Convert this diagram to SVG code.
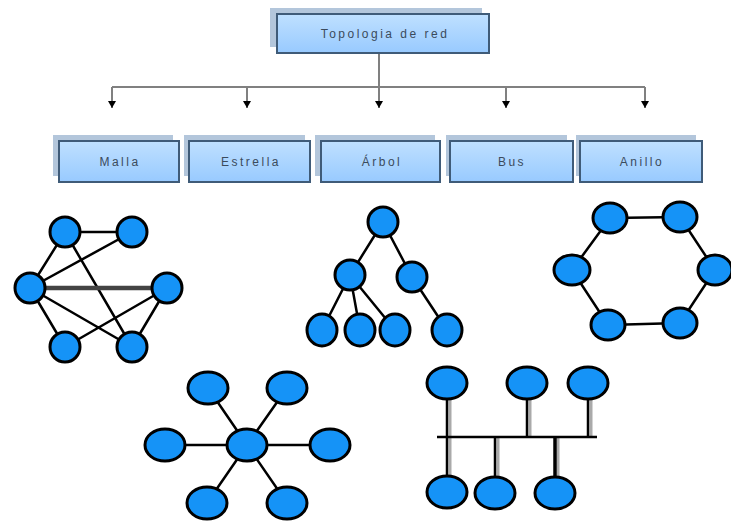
<svg xmlns="http://www.w3.org/2000/svg" width="731" height="525" viewBox="0 0 731 525">
<style>
.sh{fill:#b3c6db}
.bx{fill:url(#g);stroke:#3f5b78;stroke-width:2}
.t{font-family:"Liberation Sans",Arial,sans-serif;font-size:12px;letter-spacing:2.5px;fill:#3b4b5c;text-anchor:middle}
.c{stroke:#808080;stroke-width:2;fill:none}
.n{fill:#1593f7;stroke:#000;stroke-width:3}
.e{stroke:#000;stroke-width:2.5;fill:none}
</style>
<defs>
<linearGradient id="g" x1="0" y1="0" x2="0" y2="1"><stop offset="0" stop-color="#bfe0ff"/><stop offset="1" stop-color="#98caff"/></linearGradient>
<marker id="a" viewBox="0 0 8 8" refX="7" refY="4" markerWidth="8" markerHeight="8" markerUnits="userSpaceOnUse" orient="auto"><path d="M0,0 L7,4 L0,8 Z" fill="#000"/></marker>
</defs>
<g id="connectors">
<path class="c" d="M379,53 V87 M112,87 H645"/>
<path class="c" d="M112,87 V108" marker-end="url(#a)"/>
<path class="c" d="M247,87 V108" marker-end="url(#a)"/>
<path class="c" d="M379,87 V108" marker-end="url(#a)"/>
<path class="c" d="M506,87 V108" marker-end="url(#a)"/>
<path class="c" d="M645,87 V108" marker-end="url(#a)"/>
</g>
<g id="root"><rect class="sh" x="270" y="8" width="212" height="39"/><rect class="bx" x="277" y="14" width="212" height="39"/><text class="t" x="385" y="38">Topologia de red</text></g>
<g id="malla"><rect class="sh" x="53" y="135" width="120" height="41"/><rect class="bx" x="59" y="141" width="120" height="41"/><text class="t" x="120" y="166">Malla</text></g>
<g id="estrella"><rect class="sh" x="184" y="135" width="121" height="41"/><rect class="bx" x="189" y="141" width="121" height="41"/><text class="t" x="251" y="166">Estrella</text></g>
<g id="arbol"><rect class="sh" x="315" y="135" width="120" height="41"/><rect class="bx" x="321" y="141" width="119" height="41"/><text class="t" x="382" y="166">Árbol</text></g>
<g id="bus"><rect class="sh" x="446" y="135" width="121" height="41"/><rect class="bx" x="450" y="141" width="123" height="41"/><text class="t" x="512" y="166">Bus</text></g>
<g id="anillo"><rect class="sh" x="576" y="135" width="120" height="41"/><rect class="bx" x="580" y="141" width="122" height="41"/><text class="t" x="642" y="166">Anillo</text></g>
<g id="mesh">
<path class="e" d="M65,232 H132 M65,232 L30,288 M65,232 L132,347 M132,232 L30,288 M30,288 L65,347 M30,288 L132,347 M167,288 L65,347 M167,288 L132,347"/>
<path d="M30,288 H167" stroke="#444" stroke-width="4.5"/>
<circle class="n" cx="65" cy="232" r="15"/><circle class="n" cx="132" cy="232" r="15"/>
<circle class="n" cx="30" cy="288" r="15"/><circle class="n" cx="167" cy="288" r="15"/>
<circle class="n" cx="65" cy="347" r="15"/><circle class="n" cx="132" cy="347" r="15"/>
</g>
<g id="tree">
<path class="e" d="M383,222 L350,275 M383,222 L412,277 M350,275 L322,330 M350,275 L360,330 M350,275 L395,330 M412,277 L447,330"/>
<circle class="n" cx="383" cy="222" r="15"/>
<circle class="n" cx="350" cy="275" r="15"/><circle class="n" cx="412" cy="277" r="15"/>
<ellipse class="n" cx="322" cy="330" rx="15" ry="16"/><ellipse class="n" cx="360" cy="330" rx="15" ry="16"/>
<ellipse class="n" cx="395" cy="330" rx="15" ry="16"/><ellipse class="n" cx="447" cy="330" rx="15" ry="16"/>
</g>
<g id="ring">
<path class="e" d="M610,218 L680,217 L715,270 L680,323 L608,325 L572,270 Z"/>
<ellipse class="n" cx="610" cy="218" rx="17" ry="15"/><ellipse class="n" cx="680" cy="217" rx="17" ry="15"/>
<ellipse class="n" cx="572" cy="270" rx="18" ry="15"/><ellipse class="n" cx="715" cy="270" rx="17" ry="15"/>
<ellipse class="n" cx="608" cy="325" rx="17" ry="15"/><ellipse class="n" cx="680" cy="323" rx="17" ry="15"/>
</g>
<g id="star">
<path class="e" d="M208,388 L247,445 L287,388 M165,445 H330 M207,503 L247,445 L287,503"/>
<ellipse class="n" cx="208" cy="388" rx="20" ry="16"/><ellipse class="n" cx="287" cy="388" rx="20" ry="16"/>
<ellipse class="n" cx="165" cy="445" rx="20" ry="16"/><ellipse class="n" cx="247" cy="445" rx="20" ry="16"/>
<ellipse class="n" cx="330" cy="445" rx="20" ry="16"/>
<ellipse class="n" cx="207" cy="503" rx="20" ry="16"/><ellipse class="n" cx="287" cy="503" rx="20" ry="16"/>
</g>
<g id="busnet">
<path d="M450,383 V492 M530,383 V437 M591,383 V437 M498,437 V493 M558,437 V493" stroke="#aaa" stroke-width="3"/>
<path class="e" d="M437,437 H597 M447,383 V492 M527,383 V437 M588,383 V437 M495,437 V493"/>
<path d="M555,437 V493" stroke="#000" stroke-width="3.5"/>
<ellipse class="n" cx="447" cy="383" rx="20" ry="16"/><ellipse class="n" cx="527" cy="383" rx="20" ry="16"/><ellipse class="n" cx="588" cy="383" rx="20" ry="16"/>
<ellipse class="n" cx="447" cy="492" rx="20" ry="16"/><ellipse class="n" cx="495" cy="493" rx="20" ry="16"/><ellipse class="n" cx="555" cy="493" rx="20" ry="16"/>
</g>
</svg>
